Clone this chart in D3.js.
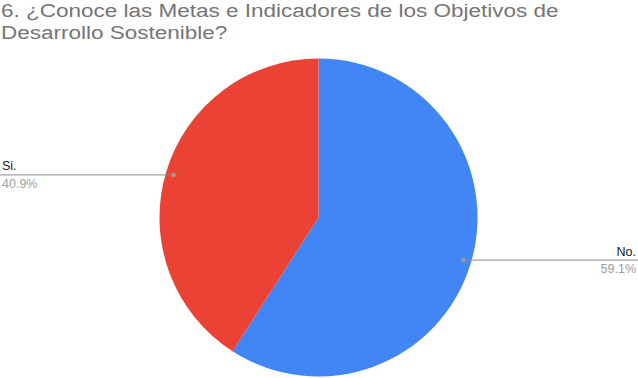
<!DOCTYPE html>
<html>
<head>
<meta charset="utf-8">
<script src="https://cdn.jsdelivr.net/npm/d3@7"></script>
<style>
  body { margin: 0; background: #fff; }
  text { font-family: "Liberation Sans", Arial, sans-serif; }
</style>
</head>
<body>
<div id="chart"></div>
<script>
// data
const categories = ["No.", "Si."];
const values = [59.1, 40.9];
const colors = ["#4285f4", "#ea4335"];
const titleLines = ["6. ¿Conoce las Metas e Indicadores de los Objetivos de", "Desarrollo Sostenible?"];

const svgWidth = 638;
const svgHeight = 378;
const cx = 318.5, cy = 217.5, radius = 159;

const svg = d3.select("#chart")
  .append("svg")
  .attr("width", svgWidth)
  .attr("height", svgHeight);

// title (the reference is a bit stretched horizontally)
const titleG = svg.append("g");
titleG.selectAll("text")
  .data(titleLines)
  .enter()
  .append("text")
  .attr("x", 0)
  .attr("y", (d, i) => 17.5 + i * 21.5)
  .style("font-size", "19px")
  .style("fill", "#757575")
  .text(d => d);

const w0 = titleG.select("text").node().getComputedTextLength();
const sx = 558 / w0;
titleG.attr("transform", `translate(1,0) scale(${sx},1)`);

const dd = categories.map((c, i) => ({ label: c, value: values[i], color: colors[i] }));

const pie = d3.pie().value(d => d.value).sort(null);
const arc = d3.arc().innerRadius(0).outerRadius(radius);
const arcs = pie(dd);

const g = svg.append("g").attr("transform", `translate(${cx},${cy})`);

g.selectAll("path")
  .data(arcs)
  .enter()
  .append("path")
  .attr("d", arc)
  .attr("fill", d => d.data.color);

// label lines
const dotR = radius * 0.95;
const pt = a => [cx + Math.sin(a) * dotR, cy - Math.cos(a) * dotR];

arcs.forEach(d => {
  const mid = (d.startAngle + d.endAngle) / 2;
  const [px, py] = pt(mid);
  const right = Math.sin(mid) > 0;
  const endX = right ? svgWidth : 0;

  svg.append("line")
    .attr("x1", px).attr("y1", py)
    .attr("x2", endX).attr("y2", py)
    .attr("stroke", "#8a8a8a")
    .attr("stroke-width", 1);

  svg.append("circle")
    .attr("cx", px).attr("cy", py)
    .attr("r", 2.2)
    .attr("fill", "#9e9e9e");

  const tx = right ? svgWidth - 2 : 2;
  const anchor = right ? "end" : "start";

  svg.append("text")
    .attr("x", tx).attr("y", py - 4.5)
    .attr("text-anchor", anchor)
    .style("font-size", "12.5px")
    .style("fill", "#222")
    .text(d.data.label);

  svg.append("text")
    .attr("x", tx).attr("y", py + 13)
    .attr("text-anchor", anchor)
    .style("font-size", "12.5px")
    .style("fill", "#9e9e9e")
    .text(d.data.value.toFixed(1) + "%");
});
</script>
</body>
</html>
